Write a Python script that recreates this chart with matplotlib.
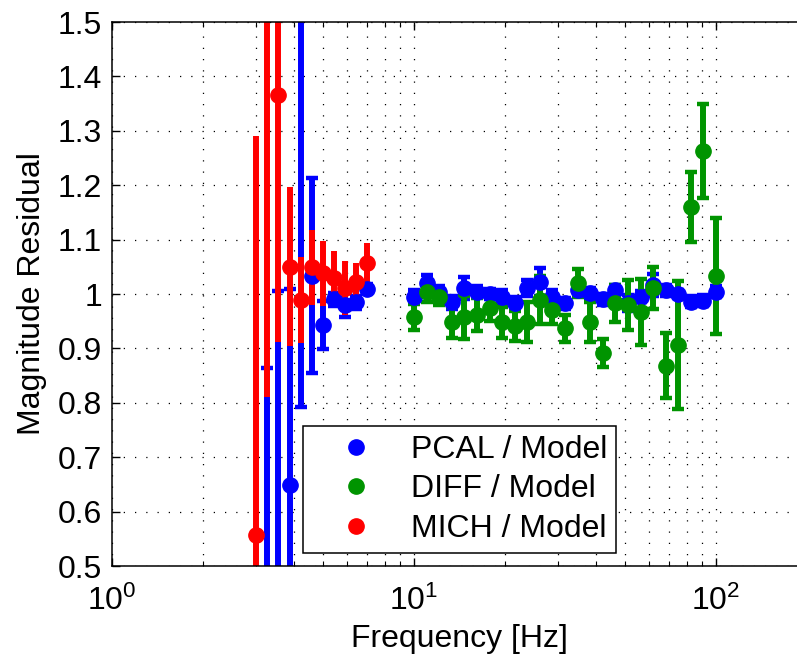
import numpy as np
import matplotlib
matplotlib.use("Agg")
import matplotlib.pyplot as plt
from matplotlib.lines import Line2D
from matplotlib.ticker import LogLocator, NullFormatter

plt.rcParams['font.family'] = ['Liberation Sans', 'DejaVu Sans']
plt.rcParams['mathtext.fontset'] = 'custom'
plt.rcParams['mathtext.rm'] = 'Liberation Sans'
plt.rcParams['mathtext.it'] = 'Liberation Sans'

# low frequency sweep (MICH and PCAL)
f_low = [3.00, 3.27, 3.55, 3.87, 4.21, 4.58, 4.99, 5.43, 5.91, 6.43, 7.00]
mich_val = [0.557, 1.65, 1.366, 1.05, 0.989, 1.049, 1.038, 1.029, 1.011, 1.022, 1.057]
mich_err = [0.733, 0.84, 0.455, 0.146, 0.079, 0.069, 0.06, 0.05, 0.05, 0.035, 0.037]

f_pcal_low = [3.27, 3.55, 3.87, 4.21, 4.58, 4.99, 5.43, 5.91, 6.43, 7.00]
pcal_low_val = [0.35, 0.40, 0.648, 1.60, 1.034, 0.943, 0.99, 0.98, 0.985, 1.01]
pcal_low_err = [0.514, 0.605, 0.362, 0.808, 0.179, 0.044, 0.012, 0.022, 0.012, 0.008]

# high frequency sweep (PCAL and DIFF)
f_high = [10.00, 11.01, 12.12, 13.34, 14.68, 16.16, 17.78, 19.57, 21.54, 23.71,
          26.10, 28.73, 31.62, 34.81, 38.31, 42.17, 46.42, 51.09, 56.23, 61.90,
          68.13, 74.99, 82.54, 90.85, 100.0]
pcal_val = [0.995, 1.02, 1.003, 0.985, 1.011, 1.004, 1.0, 0.995, 0.983, 1.011,
            1.022, 0.995, 0.983, 1.007, 1.001, 0.99, 1.007, 0.983, 0.995, 1.016,
            1.007, 1.0, 0.986, 0.988, 1.004]
pcal_err = [0.012, 0.015, 0.012, 0.012, 0.02, 0.01, 0.01, 0.012, 0.012, 0.015,
            0.026, 0.012, 0.01, 0.01, 0.01, 0.01, 0.01, 0.015, 0.01, 0.02,
            0.01, 0.008, 0.01, 0.01, 0.01]
diff_val = [0.958, 1.004, 0.995, 0.948, 0.957, 0.962, 0.974, 0.948, 0.941, 0.949,
            0.989, 0.971, 0.937, 1.020, 0.949, 0.891, 0.983, 0.98, 0.967, 1.011,
            0.868, 0.906, 1.160, 1.263, 1.033]
diff_err = [0.024, 0.019, 0.015, 0.028, 0.04, 0.03, 0.023, 0.028, 0.028, 0.037,
            0.045, 0.026, 0.025, 0.026, 0.037, 0.026, 0.034, 0.046, 0.06, 0.039,
            0.06, 0.118, 0.064, 0.087, 0.106]

labels = ["PCAL / Model", "DIFF / Model", "MICH / Model"]
c_blue, c_green, c_red = "#0000ff", "#009400", "#ff0000"
fs = 23

fig = plt.figure(figsize=(7.97, 6.56), dpi=100)
ax = fig.add_axes([112/797, 1 - 566/656, 695/797, 544/656])

style = dict(fmt="o", markersize=11, elinewidth=4.3)
ax.errorbar(f_pcal_low, pcal_low_val, yerr=pcal_low_err, color=c_blue,
            capsize=4.5, capthick=3.2, **style)
ax.errorbar(f_high, pcal_val, yerr=pcal_err, color=c_blue,
            capsize=4.5, capthick=3.2, **style)
ax.errorbar(f_high, diff_val, yerr=diff_err, color=c_green,
            capsize=4.5, capthick=3.2, **style)
# MICH bars are drawn without caps
ax.errorbar(f_low, mich_val, yerr=mich_err, color=c_red, capsize=0, **style)

ax.set_xscale("log")
ax.set_xlim(1, 200)
ax.set_ylim(0.5, 1.5)
ax.set_yticks(np.arange(0.5, 1.51, 0.1))
ax.set_yticklabels(["0.5", "0.6", "0.7", "0.8", "0.9", "1", "1.1", "1.2", "1.3", "1.4", "1.5"])
ax.xaxis.set_minor_locator(LogLocator(base=10, subs=np.arange(2, 10)))
ax.xaxis.set_minor_formatter(NullFormatter())

grid = dict(color="k", linestyle=(0, (1, 8)), linewidth=0.9)
ax.grid(True, which="major", axis="both", **grid)
ax.grid(True, which="minor", axis="x", **grid)

ax.tick_params(which="both", direction="in", top=True, right=True, labelsize=fs)
ax.tick_params(which="major", length=6, width=1)
ax.tick_params(which="minor", length=3.5, width=0.8)
ax.tick_params(axis="y", pad=7)
ax.tick_params(axis="x", pad=14)
for s in ax.spines.values():
    s.set_linewidth(1.1)

ax.set_xlabel("Frequency [Hz]", fontsize=fs, labelpad=5)
ax.set_ylabel("Magnitude Residual", fontsize=fs, labelpad=8)

handles = [Line2D([], [], linestyle="none", marker="o", markersize=11, color=c)
           for c in (c_blue, c_green, c_red)]
leg = ax.legend(handles, labels, loc="lower left", bbox_to_anchor=(0.275, 0.024),
                borderaxespad=0, fontsize=fs, fancybox=False, framealpha=1,
                edgecolor="k", handletextpad=0.35, handlelength=2.75,
                borderpad=0.28, labelspacing=0.3)
leg.get_frame().set_linewidth(1.1)

fig.savefig("out.png", dpi=100)
